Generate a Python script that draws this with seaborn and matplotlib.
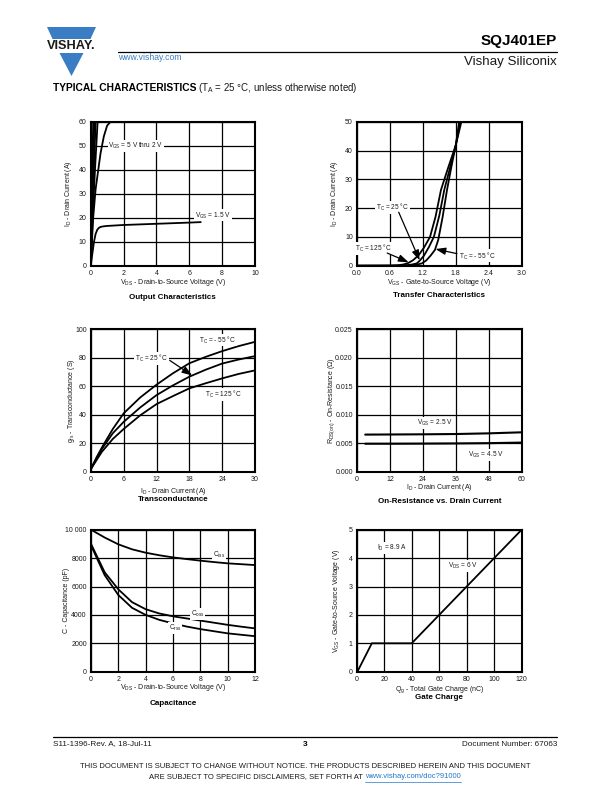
import matplotlib
matplotlib.use("Agg")
import matplotlib.pyplot as plt
import seaborn as sns
import pandas as pd
from matplotlib.patches import Polygon

# ---------------- data ----------------
# Output characteristics (VDS in V, ID in A)
oc_5v_vds = [0, 0.05, 0.10, 0.15]
oc_5v_id = [0, 20, 40, 60]
oc_4v_vds = [0, 0.07, 0.14, 0.22]
oc_4v_id = [0, 20, 40, 60]
oc_3v_vds = [0, 0.09, 0.19, 0.30]
oc_3v_id = [0, 20, 40, 60]
oc_25v_vds = [0, 0.12, 0.26, 0.42]
oc_25v_id = [0, 20, 40, 60]
oc_2v_vds = [0, 0.15, 0.30, 0.46, 0.60, 0.80, 1.00, 1.20]
oc_2v_id = [0, 20, 32, 40, 47, 54, 58.5, 60]
oc_15v_vds = [0, 0.1, 0.2, 0.3, 0.4, 0.5, 0.6, 0.8, 1.0, 2.0, 4.0, 6.0, 6.7]
oc_15v_id = [0, 5, 10, 13.3, 15.0, 15.8, 16.2, 16.45, 16.6, 17.0, 17.5, 18.0, 18.2]

# Transfer characteristics (VGS in V, ID in A)
tc_125_vgs = [0, 0.6, 0.75, 0.85, 0.94, 1.02, 1.12, 1.22, 1.33, 1.43, 1.53, 1.65, 1.80, 1.90]
tc_125_id = [0, 0.03, 0.15, 0.45, 1.0, 1.9, 3.6, 6.3, 10, 17, 26.4, 33.5, 42, 50]
tc_25_vgs = [0, 0.7, 0.9, 1.0, 1.09, 1.14, 1.22, 1.31, 1.40, 1.50, 1.59, 1.70, 1.80, 1.88]
tc_25_id = [0, 0.02, 0.15, 0.4, 0.8, 1.7, 3.5, 6.5, 10, 17.5, 26.4, 34.5, 42, 50]
tc_m55_vgs = [0, 0.8, 1.0, 1.1, 1.18, 1.26, 1.34, 1.42, 1.48, 1.56, 1.64, 1.72, 1.80, 1.86]
tc_m55_id = [0, 0.02, 0.15, 0.4, 0.8, 1.8, 3.5, 5.5, 9, 17, 26.4, 34.5, 42, 50]

# Transconductance (ID in A, gfs in S)
gf_id = [0, 1, 2, 4, 6, 9, 12, 15, 18, 21, 24, 27, 30]
gf_m55 = [2, 10, 17, 30, 41, 52, 61, 69, 76, 80.5, 84.5, 88, 91]
gf_25 = [2, 9, 16, 27, 35, 45, 53.7, 60.5, 66.6, 71.5, 75.8, 78.6, 81]
gf_125 = [2, 8, 14, 23, 30, 39.5, 47.4, 53, 58.4, 62, 65.4, 68.5, 71]

# On-resistance (ID in A, RDS(on) in ohm)
ron_id = [3, 12, 24, 36, 48, 60]
ron_25v = [0.0065, 0.00652, 0.00655, 0.0066, 0.00672, 0.0069]
ron_45v = [0.0049, 0.0049, 0.00492, 0.00495, 0.0050, 0.0051]

# Capacitance (VDS in V, C in pF)
cap_vds = [0, 1, 2, 3, 4, 5, 6, 7, 8, 9, 10, 11, 12]
cap_ciss = [10000, 9450, 8970, 8620, 8380, 8200, 8050, 7930, 7820, 7720, 7630, 7570, 7510]
cap_coss = [9000, 7000, 5800, 4900, 4400, 4100, 3900, 3750, 3600, 3450, 3300, 3170, 3050]
cap_crss = [8900, 6800, 5400, 4500, 4000, 3650, 3400, 3180, 3000, 2850, 2700, 2600, 2500]

# Gate charge (Qg in nC, VGS in V)
gc_qg = [0.5, 11, 40, 120]
gc_vgs = [0, 1, 1, 5]

# tick labels
oc_xticks = [0, 2, 4, 6, 8, 10]
oc_yticks = [0, 10, 20, 30, 40, 50, 60]
tc_xticks = [0.0, 0.6, 1.2, 1.8, 2.4, 3.0]
tc_yticks = [0, 10, 20, 30, 40, 50]
gf_xticks = [0, 6, 12, 18, 24, 30]
gf_yticks = [0, 20, 40, 60, 80, 100]
ron_xticks = [0, 12, 24, 36, 48, 60]
ron_yticks = [0.000, 0.005, 0.010, 0.015, 0.020, 0.025]
cap_xticks = [0, 2, 4, 6, 8, 10, 12]
cap_yticks = [0, 2000, 4000, 6000, 8000, 10000]
cap_yticklabels = ["0", "2000", "4000", "6000", "8000", "10 000"]
gc_xticks = [0, 20, 40, 60, 80, 100, 120]
gc_yticks = [0, 1, 2, 3, 4, 5]

# ---------------- style ----------------
sns.set_theme(style="white")
plt.rcParams["font.family"] = ["Liberation Sans", "DejaVu Sans"]
plt.rcParams["mathtext.fontset"] = "custom"
plt.rcParams["mathtext.rm"] = "Liberation Sans"
plt.rcParams["mathtext.it"] = "Liberation Sans:italic"
plt.rcParams["mathtext.bf"] = "Liberation Sans:bold"

W, H = 612, 792
fig = plt.figure(figsize=(W / 100, H / 100), dpi=100)
fig.patch.set_facecolor("white")

# overlay axes in pixel coordinates for page decoration
pg = fig.add_axes([0, 0, 1, 1])
pg.set_xlim(0, W)
pg.set_ylim(H, 0)
pg.axis("off")
pg.set_facecolor("none")

TXT = "#1a1a1a"
LW = 1.3
TICK_FS = 5.0
LAB_FS = 5.0
TITLE_FS = 5.8
ANN_FS = 4.7


def make_ax(left, top, right, bottom):
    return fig.add_axes([left / W, 1 - bottom / H, (right - left) / W, (bottom - top) / H])


def setup(ax, xlim, xticks, ylim, yticks, xlabel, ylabel, title, lx, ly, ty,
          xtl=None, ytl=None):
    ax.set_xlim(*xlim)
    ax.set_ylim(*ylim)
    ax.set_xticks(xticks)
    ax.set_yticks(yticks)
    if xtl is not None:
        ax.set_xticklabels(xtl)
    if ytl is not None:
        ax.set_yticklabels(ytl)
    ax.set_axisbelow(True)
    ax.grid(True, color="black", lw=0.9)
    for s in ax.spines.values():
        s.set_color("black")
        s.set_linewidth(1.5)
        s.set_visible(True)
    ax.tick_params(length=0, pad=3, labelsize=TICK_FS, colors=TXT)
    ax.set_xlabel(xlabel, fontsize=LAB_FS, color=TXT)
    ax.set_ylabel(ylabel, fontsize=LAB_FS, color=TXT)
    ax.xaxis.set_label_coords(0.5, ly)
    ax.yaxis.set_label_coords(lx, 0.5)
    ax.xaxis.label.set_va("center")
    ax.yaxis.label.set_va("center")
    ax.text(0.5, ty, title, transform=ax.transAxes, ha="center", va="center",
            fontsize=TITLE_FS, fontweight="bold", color="black")


def curve(ax, x, y, color="black", lw=LW):
    df = pd.DataFrame({"x": x, "y": y})
    sns.lineplot(data=df, x="x", y="y", ax=ax, color=color, lw=lw,
                 sort=False, estimator=None)


def label(ax, x, y, s, ha="center"):
    ax.text(x, y, s, fontsize=ANN_FS, ha=ha, va="center", color=TXT, zorder=4,
            bbox=dict(fc="white", ec="none", pad=0.6))


def arrow(ax, xy_from, xy_to):
    ax.annotate("", xy=xy_to, xytext=xy_from, zorder=4,
                arrowprops=dict(arrowstyle="-|>,head_length=0.5,head_width=0.18",
                                color="black", lw=0.9, shrinkA=0, shrinkB=0))


# ---- Output characteristics ----
ax1 = make_ax(90.7, 122, 255, 265.7)
for xv, yv in [(oc_5v_vds, oc_5v_id), (oc_4v_vds, oc_4v_id), (oc_3v_vds, oc_3v_id),
               (oc_25v_vds, oc_25v_id), (oc_2v_vds, oc_2v_id), (oc_15v_vds, oc_15v_id)]:
    curve(ax1, xv, yv)
setup(ax1, (0, 10), oc_xticks, (0, 60), oc_yticks,
      r"V$_{\rm DS}$ - Drain-to-Source Voltage (V)", r"I$_{\rm D}$ - Drain Current (A)",
      "Output Characteristics", -0.136, -0.118, -0.223)
label(ax1, 2.75, 50, r"V$_{\rm GS}$ = 5 V thru 2 V")
label(ax1, 7.45, 21, r"V$_{\rm GS}$ = 1.5 V")

# ---- Transfer characteristics ----
ax2 = make_ax(357, 122, 521.7, 265.7)
curve(ax2, tc_125_vgs, tc_125_id)
curve(ax2, tc_25_vgs, tc_25_id)
curve(ax2, tc_m55_vgs, tc_m55_id)
setup(ax2, (0, 3), tc_xticks, (0, 50), tc_yticks,
      r"V$_{\rm GS}$ - Gate-to-Source Voltage (V)", r"I$_{\rm D}$ - Drain Current (A)",
      "Transfer Characteristics", -0.134, -0.118, -0.204,
      xtl=[f"{v:.1f}" for v in tc_xticks])
label(ax2, 0.64, 20.2, r"T$_{\rm C}$ = 25 °C")
arrow(ax2, (0.76, 18.6), (1.14, 1.9))
label(ax2, 0.29, 6, r"T$_{\rm C}$ = 125 °C")
arrow(ax2, (0.55, 4.4), (0.94, 1.2))
label(ax2, 2.19, 3.4, r"T$_{\rm C}$ = - 55 °C")
arrow(ax2, (1.82, 4.2), (1.43, 5.8))

# ---- Transconductance ----
ax3 = make_ax(91, 329, 255, 471.7)
curve(ax3, gf_id, gf_m55)
curve(ax3, gf_id, gf_25)
curve(ax3, gf_id, gf_125)
setup(ax3, (0, 30), gf_xticks, (0, 100), gf_yticks,
      r"I$_{\rm D}$ - Drain Current (A)", r"g$_{\rm fs}$ - Transconductance (S)",
      "Transconductance", -0.118, -0.140, -0.198)
label(ax3, 23.2, 92.3, r"T$_{\rm C}$ = - 55 °C")
label(ax3, 11.1, 79.4, r"T$_{\rm C}$ = 25 °C")
arrow(ax3, (14.4, 78), (18.5, 67.5))
label(ax3, 24.2, 54.4, r"T$_{\rm C}$ = 125 °C")

# ---- On-resistance ----
ax4 = make_ax(357, 329, 521.7, 471.7)
curve(ax4, ron_id, ron_25v, lw=1.5)
curve(ax4, ron_id, ron_45v, lw=1.5)
setup(ax4, (0, 60), ron_xticks, (0, 0.025), ron_yticks,
      r"I$_{\rm D}$ - Drain Current (A)", r"R$_{\rm DS(on)}$ - On-Resistance (Ω)",
      "On-Resistance vs. Drain Current", -0.154, -0.114, -0.210,
      ytl=[f"{v:.3f}" for v in ron_yticks])
label(ax4, 28.4, 0.0086, r"V$_{\rm GS}$ = 2.5 V")
label(ax4, 47, 0.0029, r"V$_{\rm GS}$ = 4.5 V")

# ---- Capacitance ----
ax5 = make_ax(91, 529.7, 255, 671.7)
curve(ax5, cap_vds, cap_ciss)
curve(ax5, cap_vds, cap_coss)
curve(ax5, cap_vds, cap_crss)
setup(ax5, (0, 12), cap_xticks, (0, 10000), cap_yticks,
      r"V$_{\rm DS}$ - Drain-to-Source Voltage (V)", "C - Capacitance (pF)",
      "Capacitance", -0.148, -0.113, -0.223, ytl=cap_yticklabels)
label(ax5, 9.35, 8260, r"C$_{\rm iss}$")
label(ax5, 7.8, 4080, r"C$_{\rm oss}$")
label(ax5, 6.15, 3100, r"C$_{\rm rss}$")

# ---- Gate charge ----
ax6 = make_ax(356.7, 529.7, 521.7, 671.7)
curve(ax6, gc_qg, gc_vgs)
setup(ax6, (0, 120), gc_xticks, (0, 5), gc_yticks,
      r"Q$_{\rm g}$ - Total Gate Charge (nC)", r"V$_{\rm GS}$ - Gate-to-Source Voltage (V)",
      "Gate Charge", -0.121, -0.124, -0.185)
label(ax6, 26, 4.37, r"I$_{\rm D}$ = 8.9 A")
label(ax6, 77, 3.72, r"V$_{\rm DS}$ = 6 V")

# ---------------- page decoration ----------------
BLUE = "#3b7dc4"
pg.add_patch(Polygon([(47, 27), (96, 27), (90.5, 39), (52.5, 39)], closed=True,
                     fc=BLUE, ec="none"))
pg.add_patch(Polygon([(59.5, 53), (83.5, 53), (71.5, 76)], closed=True,
                     fc=BLUE, ec="none"))
pg.text(71.5, 46, "VISHAY.", fontsize=9.2, fontweight="bold", ha="center", va="center",
        color="#1a1a1a")
pg.plot([118, 557], [52, 52], color="black", lw=0.9)
pg.text(557, 41, "SQJ401EP", fontsize=11, fontweight="bold", ha="right", va="center",
        color="black")
pg.text(557, 62, "Vishay Siliconix", fontsize=9.6, ha="right", va="center", color="#1a1a1a")
pg.text(118, 58, "www.vishay.com", fontsize=6.2, ha="left", va="center", color=BLUE)

t_bold = pg.text(53, 88, "TYPICAL CHARACTERISTICS", fontsize=7.4, fontweight="bold",
                 ha="left", va="center", color="black")
fig.canvas.draw()
rend = fig.canvas.get_renderer()
bb = t_bold.get_window_extent(renderer=rend)
pg.text(bb.x1 + 2, 88, r"(T$_{\rm A}$ = 25 °C, unless otherwise noted)", fontsize=7.0,
        ha="left", va="center", color="#1a1a1a")

# footer
pg.plot([53, 557], [737, 737], color="black", lw=0.9)
pg.text(53, 744, "S11-1396-Rev. A, 18-Jul-11", fontsize=5.9, ha="left", va="center",
        color="#1a1a1a")
pg.text(305, 745, "3", fontsize=6.0, fontweight="bold", ha="center", va="center",
        color="black")
pg.text(557, 744, "Document Number: 67063", fontsize=5.9, ha="right", va="center",
        color="#1a1a1a")
pg.text(305, 767, "THIS DOCUMENT IS SUBJECT TO CHANGE WITHOUT NOTICE. THE PRODUCTS "
        "DESCRIBED HEREIN AND THIS DOCUMENT", fontsize=5.5, ha="center", va="center",
        color="#1a1a1a")
t_a = pg.text(0, 777, "ARE SUBJECT TO SPECIFIC DISCLAIMERS, SET FORTH AT ", fontsize=5.5,
              ha="left", va="center", color="#1a1a1a")
t_b = pg.text(0, 777, "www.vishay.com/doc?91000", fontsize=5.5, ha="left", va="center",
              color="#1f78c8")
fig.canvas.draw()
wa = t_a.get_window_extent(renderer=rend).width
wb = t_b.get_window_extent(renderer=rend).width
x0 = 305 - (wa + wb) / 2
t_a.set_x(x0)
t_b.set_x(x0 + wa)
pg.plot([x0 + wa, x0 + wa + wb], [781.5, 781.5], color="#1f78c8", lw=0.5)

fig.savefig("out.png", dpi=100, facecolor="white")
